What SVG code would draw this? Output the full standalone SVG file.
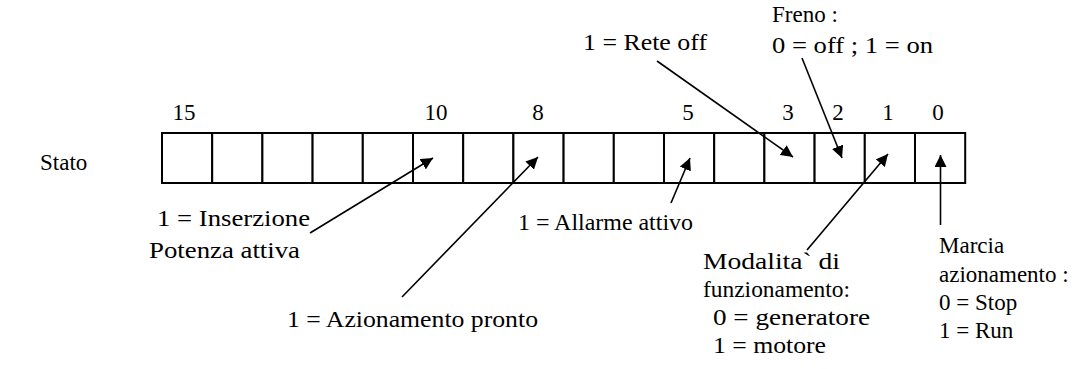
<svg xmlns="http://www.w3.org/2000/svg" width="1080" height="369" viewBox="0 0 1080 369">
<style>
text{font-family:"Liberation Serif","Times New Roman",serif;font-size:23px;fill:#000}
.s{font-size:24px}
.c{fill:#fff;stroke:#000;stroke-width:2}
.l{stroke:#000;stroke-width:1.6;fill:none}
.m{text-anchor:middle}
</style>
<defs>
<marker id="ah" viewBox="0 0 10 10" refX="10" refY="5" markerWidth="12" markerHeight="12" markerUnits="userSpaceOnUse" orient="auto">
<path d="M0,0 L10,5 L0,10 z" fill="#000"/>
</marker>
</defs>
<rect width="1080" height="369" fill="#fff"/>
<g id="stato-label"><text x="40" y="170">Stato</text></g>
<g id="register">
<rect class="c" x="162" y="133" width="50.2" height="50"/>
<rect class="c" x="212.2" y="133" width="50.2" height="50"/>
<rect class="c" x="262.4" y="133" width="50.2" height="50"/>
<rect class="c" x="312.6" y="133" width="50.2" height="50"/>
<rect class="c" x="362.8" y="133" width="50.2" height="50"/>
<rect class="c" x="413" y="133" width="50.2" height="50"/>
<rect class="c" x="463.2" y="133" width="50.2" height="50"/>
<rect class="c" x="513.4" y="133" width="50.2" height="50"/>
<rect class="c" x="563.6" y="133" width="50.2" height="50"/>
<rect class="c" x="613.8" y="133" width="50.2" height="50"/>
<rect class="c" x="664" y="133" width="50.2" height="50"/>
<rect class="c" x="714.2" y="133" width="50.2" height="50"/>
<rect class="c" x="764.4" y="133" width="50.2" height="50"/>
<rect class="c" x="814.6" y="133" width="50.2" height="50"/>
<rect class="c" x="864.8" y="133" width="50.2" height="50"/>
<rect class="c" x="915" y="133" width="50.2" height="50"/>
</g>
<g id="bit-numbers">
<text class="m" x="184" y="120">15</text>
<text class="m" x="436" y="120">10</text>
<text class="m" x="538" y="120">8</text>
<text class="m" x="688" y="120">5</text>
<text class="m" x="788" y="120">3</text>
<text class="m" x="838" y="120">2</text>
<text class="m" x="888" y="120">1</text>
<text class="m" x="938" y="120">0</text>
</g>
<g id="connectors">
<line class="l" x1="310" y1="233" x2="433" y2="158" marker-end="url(#ah)"/>
<line class="l" x1="402" y1="297" x2="538" y2="157" marker-end="url(#ah)"/>
<line class="l" x1="671" y1="203" x2="690" y2="158" marker-end="url(#ah)"/>
<line class="l" x1="657" y1="61" x2="793" y2="157" marker-end="url(#ah)"/>
<line class="l" x1="802" y1="58" x2="842" y2="158" marker-end="url(#ah)"/>
<line class="l" x1="807" y1="250" x2="888" y2="154" marker-end="url(#ah)"/>
<line class="l" x1="940.5" y1="225" x2="940.5" y2="155" marker-end="url(#ah)"/>
</g>
<g id="n-inserzione"><text class="s" x="157" y="226" textLength="153" lengthAdjust="spacingAndGlyphs">1 = Inserzione</text><text class="s" x="149" y="258" textLength="151" lengthAdjust="spacingAndGlyphs">Potenza attiva</text></g>
<g id="n-pronto"><text class="s" x="287" y="327" textLength="251" lengthAdjust="spacingAndGlyphs">1 = Azionamento pronto</text></g>
<g id="n-allarme"><text class="s" x="518" y="230" textLength="175" lengthAdjust="spacingAndGlyphs">1 = Allarme attivo</text></g>
<g id="n-rete"><text class="s" x="583" y="50" textLength="124" lengthAdjust="spacingAndGlyphs">1 = Rete off</text></g>
<g id="n-freno"><text x="772" y="22">Freno :</text><text class="s" x="772" y="53" textLength="161" lengthAdjust="spacingAndGlyphs">0 = off ; 1 = on</text></g>
<g id="n-modalita"><text class="s" x="703" y="269" textLength="137" lengthAdjust="spacingAndGlyphs">Modalita` di</text><text class="s" x="703" y="297" textLength="147" lengthAdjust="spacingAndGlyphs">funzionamento:</text><text class="s" x="713" y="325" textLength="157" lengthAdjust="spacingAndGlyphs">0 = generatore</text><text class="s" x="713" y="353" textLength="113" lengthAdjust="spacingAndGlyphs">1 = motore</text></g>
<g id="n-marcia"><text x="939" y="253">Marcia</text><text x="939" y="282">azionamento :</text><text x="939" y="310">0 = Stop</text><text x="939" y="338">1 = Run</text></g>
</svg>
